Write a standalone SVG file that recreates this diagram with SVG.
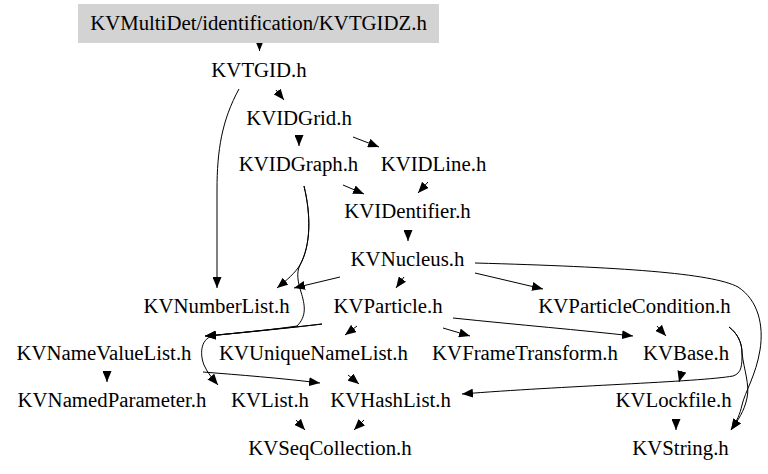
<svg xmlns="http://www.w3.org/2000/svg" width="768" height="474" viewBox="0 0 768 474">
<style>
.e{fill:none;stroke:#000;stroke-width:1;marker-end:url(#ah)}
</style>
<defs>
<marker id="ah" markerUnits="userSpaceOnUse" markerWidth="11" markerHeight="9" refX="11" refY="4.5" orient="auto"><path d="M0,0 L11,4.5 L0,9 z" fill="#000"/></marker>
</defs>
<rect width="768" height="474" fill="#fff"/>
<g id="edges">
<path class="e" d="M259.5,41 L259.5,51"/>
<path class="e" d="M276,90 L284,100"/>
<path class="e" d="M239,89 C222,120 217,150 217,190 L217,288"/>
<path class="e" d="M299,135 L299,146"/>
<path class="e" d="M353,137 L379,147"/>
<path class="e" d="M343,185 L364,194"/>
<path class="e" d="M428,182 L418,193"/>
<path class="e" d="M408,230 L408,241"/>
<path class="e" d="M304,186 C311,215 311,245 300,265 C295,273 287,280 277,288"/>
<path class="e" d="M304,186 C311,215 311,245 300,265 C296,273 298,282 301,292 C305,305 307,316 297,326 C270,330 240,333 205,336"/>
<path class="e" d="M340,277 L294,288"/>
<path class="e" d="M404,277 L396,288"/>
<path class="e" d="M475,273 L543,289"/>
<path class="e" d="M475,263 C620,267 712,273 738,287 C758,300 764,325 760,350 C756,375 745,392 742,405 C740,414 737,421 731,430"/>
<path class="e" d="M322,324 C290,328 240,333 205,336"/>
<path class="e" d="M322,324 C290,328 240,332 212,336 C200,340 200,355 204,365 C207,372 212,378 218,385"/>
<path class="e" d="M357,326 L345,335"/>
<path class="e" d="M443,328 L470,336"/>
<path class="e" d="M453,318 C520,325 580,330 633,336"/>
<path class="e" d="M657,326 L666,336"/>
<path class="e" d="M729,327 C737,333 742,342 742,353 C742,365 742,373 733,376 C700,382 560,386 462,394"/>
<path class="e" d="M729,327 C737,333 742,342 742,353 C744,370 750,385 747,398 C744,412 738,420 731,430"/>
<path class="e" d="M107,371 L107,382"/>
<path class="e" d="M203,372 C240,375 280,378 320,383"/>
<path class="e" d="M348,375 L359,384"/>
<path class="e" d="M682,371 L679,382"/>
<path class="e" d="M676,419 L676,430"/>
<path class="e" d="M296,420 L305,430"/>
<path class="e" d="M364,420 L354,430"/>
</g>
<g font-family="Liberation Serif, serif" font-size="20.8" text-anchor="middle" fill="#000">
<g id="n0"><rect x="78" y="4" width="361" height="39" fill="#d3d3d3"/><text x="258.5" y="29.5">KVMultiDet/identification/KVTGIDZ.h</text></g>
<g id="n1"><text x="259" y="76.5">KVTGID.h</text></g>
<g id="n2"><text x="299" y="125">KVIDGrid.h</text></g>
<g id="n3"><text x="298.5" y="171">KVIDGraph.h</text></g>
<g id="n4"><text x="433.5" y="171">KVIDLine.h</text></g>
<g id="n5"><text x="407.5" y="218">KVIDentifier.h</text></g>
<g id="n6"><text x="407.5" y="266">KVNucleus.h</text></g>
<g id="n7"><text x="216.5" y="313">KVNumberList.h</text></g>
<g id="n8"><text x="388" y="313">KVParticle.h</text></g>
<g id="n9"><text x="634.5" y="312.5">KVParticleCondition.h</text></g>
<g id="n10"><text x="104" y="360">KVNameValueList.h</text></g>
<g id="n11"><text x="313.5" y="360">KVUniqueNameList.h</text></g>
<g id="n12"><text x="525" y="360">KVFrameTransform.h</text></g>
<g id="n13"><text x="686" y="360">KVBase.h</text></g>
<g id="n14"><text x="112" y="407">KVNamedParameter.h</text></g>
<g id="n15"><text x="270" y="407">KVList.h</text></g>
<g id="n16"><text x="390.5" y="407">KVHashList.h</text></g>
<g id="n17"><text x="673.5" y="407">KVLockfile.h</text></g>
<g id="n18"><text x="330" y="455">KVSeqCollection.h</text></g>
<g id="n19"><text x="680.5" y="455">KVString.h</text></g>
</g>
</svg>
